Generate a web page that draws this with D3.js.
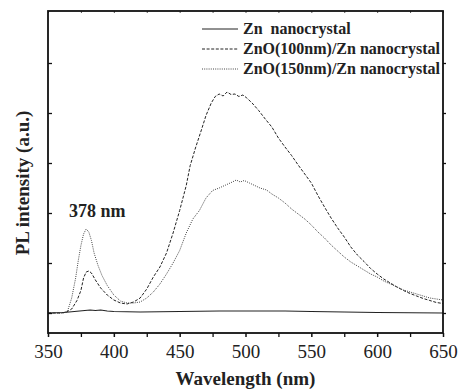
<!DOCTYPE html>
<html lang="en">
<head>
<meta charset="UTF-8">
<title>PL spectra</title>
<script src="https://d3js.org/d3.v7.min.js"></script>
<style>
    body { margin: 0; background: #fff; }
    svg { display: block; }
</style>
</head>
<body>
<svg id="canvas" width="461" height="392"></svg>
<script>
    // series: [wavelength nm, intensity a.u.]
    let znData = [[350,0],[362,0.01],[370,0.03],[378,0.05],[382,0.06],[386,0.05],[390,0.06],[395,0.04],
        [400,0.03],[420,0.02],[450,0.03],[480,0.04],[500,0.04],[530,0.04],[550,0.03],[600,0.01],[650,0]];

    let zno100Data = [[350,0],[360,0],[364,0.02],[368,0.08],[372,0.25],[375,0.45],[377,0.7],[379,0.82],
        [381,0.84],[383,0.8],[386,0.66],[390,0.5],[395,0.36],[400,0.26],[405,0.2],[410,0.18],[415,0.22],
        [420,0.3],[425,0.48],[430,0.72],[435,0.92],[440,1.2],[445,1.6],[450,2.05],[455,2.55],[458,2.95],
        [462,3.3],[466,3.62],[470,3.95],[474,4.2],[477,4.33],[480,4.38],[483,4.34],[486,4.42],[489,4.37],
        [492,4.38],[495,4.33],[498,4.36],[501,4.3],[505,4.2],[510,4.05],[515,3.88],[520,3.72],[525,3.5],
        [530,3.32],[535,3.15],[540,2.96],[545,2.78],[550,2.6],[555,2.35],[560,2.12],[565,1.9],[570,1.7],
        [575,1.52],[580,1.32],[585,1.16],[590,1.03],[595,0.89],[600,0.78],[605,0.68],[610,0.6],[615,0.52],
        [620,0.45],[625,0.39],[630,0.34],[635,0.29],[640,0.25],[645,0.21],[650,0.19]];

    let zno150Data = [[350,0],[362,0],[365,0.05],[368,0.3],[371,0.7],[373,1.05],[375,1.35],[377,1.58],
        [379,1.68],[381,1.62],[383,1.45],[385,1.2],[388,0.95],[391,0.75],[395,0.55],[400,0.36],[405,0.24],
        [410,0.2],[415,0.2],[420,0.22],[425,0.3],[430,0.42],[435,0.58],[440,0.78],[445,1.0],[450,1.25],
        [455,1.6],[460,1.88],[465,2.05],[470,2.3],[475,2.45],[480,2.5],[485,2.56],[490,2.62],[493,2.66],
        [496,2.62],[499,2.65],[503,2.6],[507,2.55],[511,2.5],[516,2.46],[520,2.38],[525,2.3],[530,2.2],
        [535,2.08],[540,1.98],[545,1.88],[550,1.76],[555,1.62],[560,1.5],[565,1.36],[570,1.24],[575,1.12],
        [580,1.02],[585,0.94],[590,0.86],[595,0.78],[600,0.72],[605,0.64],[610,0.58],[615,0.52],[620,0.46],
        [625,0.42],[630,0.38],[635,0.34],[640,0.3],[645,0.28],[650,0.26]];

    let seriesNames = ["Zn  nanocrystal", "ZnO(100nm)/Zn nanocrystal", "ZnO(150nm)/Zn nanocrystal"];
    let xTicks = [350, 400, 450, 500, 550, 600, 650];
    let xMinorTicks = [375, 425, 475, 525, 575, 625];
    let yTicks = [0, 1, 2, 3, 4, 5];

    let svg = d3.select('#canvas');
    let plotLeft = 48, plotRight = 443, plotTop = 11, plotBottom = 333;
    let serif = 'Liberation Serif';

    let xscale = d3.scaleLinear().domain([350, 650]).range([plotLeft, plotRight]);
    let yscale = d3.scaleLinear().domain([-0.4, 6.04]).range([plotBottom, plotTop]);

    let line_generator = d3.line()
        .x(function (d) { return xscale(d[0]); })
        .y(function (d) { return yscale(d[1]); });

    let styles = [
        {data: znData, dash: null, color: "#222", width: 1.1},
        {data: zno100Data, dash: "3,1.6", color: "#222", width: 1},
        {data: zno150Data, dash: "1,1.2", color: "#444", width: 1}
    ];

    // curves
    svg.append('g').selectAll('path')
        .data(styles)
        .enter()
        .append('path')
        .attr('d', function (d) { return line_generator(d.data); })
        .attr('fill', 'none')
        .attr('stroke', function (d) { return d.color; })
        .attr('stroke-width', function (d) { return d.width; })
        .attr('stroke-dasharray', function (d) { return d.dash; });

    // bottom axis
    let xAxis = svg.append('g').attr('transform', `translate(0,${plotBottom})`)
        .call(d3.axisBottom(xscale).tickValues(xTicks).tickSize(4).tickPadding(8).tickFormat(d3.format('d')));
    xAxis.select('.domain').remove();
    xAxis.selectAll('.tick line').attr('stroke', '#111').attr('stroke-width', 1.5);
    xAxis.selectAll('.tick text')
        .style('font-family', serif).style('font-size', '19px').style('fill', '#222');
    svg.append('g').attr('transform', `translate(0,${plotBottom})`)
        .call(d3.axisBottom(xscale).tickValues(xMinorTicks).tickSize(4).tickFormat(''))
        .call(function (g) { g.select('.domain').remove(); g.selectAll('line').attr('stroke', '#111').attr('stroke-width', 1.3); });

    // top ticks
    svg.append('g').attr('transform', `translate(0,${plotTop})`)
        .call(d3.axisBottom(xscale).tickValues(xTicks.concat(xMinorTicks)).tickSize(2).tickFormat(''))
        .call(function (g) { g.select('.domain').remove(); g.selectAll('line').attr('stroke', '#555'); });

    // left ticks (inward)
    svg.append('g').attr('transform', `translate(${plotLeft},0)`)
        .call(d3.axisRight(yscale).tickValues(yTicks).tickSize(4).tickFormat(''))
        .call(function (g) { g.select('.domain').remove(); g.selectAll('line').attr('stroke', '#111').attr('stroke-width', 1.3); });

    // right ticks (outward)
    svg.append('g').attr('transform', `translate(${plotRight},0)`)
        .call(d3.axisRight(yscale).tickValues(yTicks).tickSize(3).tickFormat(''))
        .call(function (g) { g.select('.domain').remove(); g.selectAll('line').attr('stroke', '#111').attr('stroke-width', 1.3); });

    // frame
    svg.append('rect')
        .attr('x', plotLeft).attr('y', plotTop)
        .attr('width', plotRight - plotLeft).attr('height', plotBottom - plotTop)
        .attr('fill', 'none').attr('stroke', '#111').attr('stroke-width', 1.8);

    // axis titles
    svg.append('text')
        .attr('x', (plotLeft + plotRight) / 2).attr('y', 385)
        .attr('text-anchor', 'middle')
        .style('font-family', serif).style('font-size', '19px').style('font-weight', 'bold').style('fill', '#222')
        .text('Wavelength (nm)');
    svg.append('text')
        .attr('transform', 'translate(29,183) rotate(-90)')
        .attr('text-anchor', 'middle')
        .style('font-family', serif).style('font-size', '19px').style('font-weight', 'bold').style('fill', '#222')
        .text('PL intensity (a.u.)');

    // peak annotation
    svg.append('text')
        .attr('x', 69).attr('y', 217)
        .style('font-family', serif).style('font-size', '18px').style('font-weight', 'bold').style('fill', '#222')
        .text('378 nm');

    // legend
    let legendRows = svg.append('g').selectAll('g')
        .data(styles)
        .enter()
        .append('g')
        .attr('transform', function (d, i) { return `translate(202,${29 + i * 20})`; });
    legendRows.append('line')
        .attr('x1', 0).attr('x2', 36).attr('y1', 0).attr('y2', 0)
        .attr('stroke', function (d) { return d.color; })
        .attr('stroke-width', 1)
        .attr('stroke-dasharray', function (d) { return d.dash; });
    legendRows.append('text')
        .attr('x', 41).attr('y', 5)
        .style('font-family', serif).style('font-size', '16px').style('font-weight', 'bold')
        .style('fill', '#222').style('white-space', 'pre')
        .text(function (d, i) { return seriesNames[i]; });
</script>
</body>
</html>
